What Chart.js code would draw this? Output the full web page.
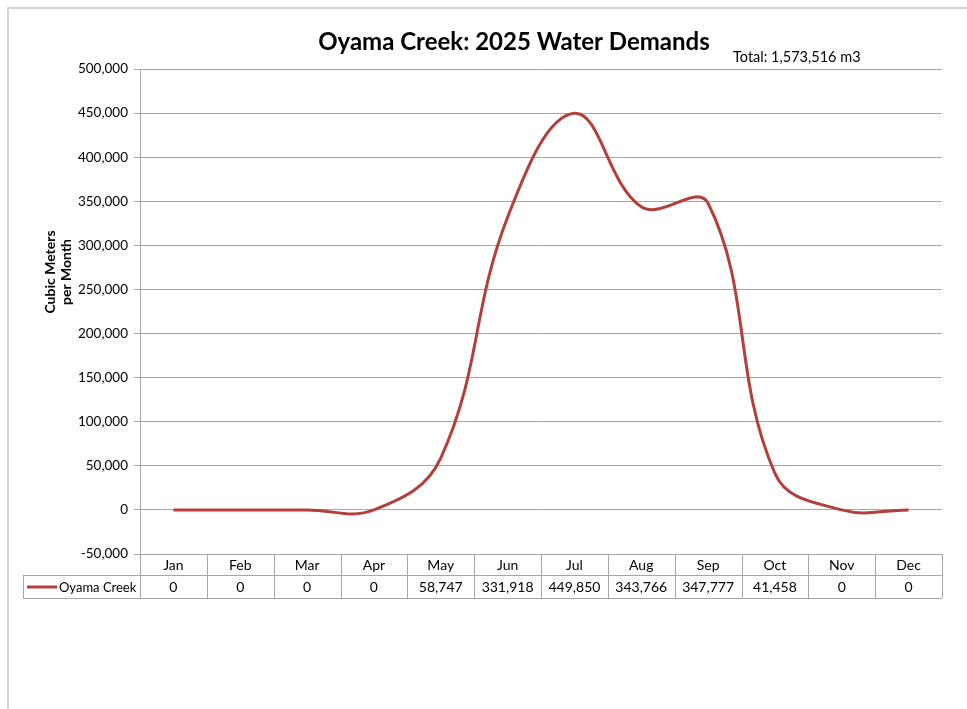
<!DOCTYPE html>
<html>
<head>
<meta charset="utf-8">
<script src="https://cdn.jsdelivr.net/npm/chart.js@4.4.1/dist/chart.umd.min.js"></script>
<style>
  html, body { margin: 0; padding: 0; background: #ffffff; }
  #wrap { position: relative; width: 967px; height: 709px; }
</style>
</head>
<body>
<div id="wrap"><canvas id="c" width="967" height="709"></canvas></div>
<script>
// ---- Data ----
const chartTitle = "Oyama Creek: 2025 Water Demands";
const totalText = "Total: 1,573,516 m3";
const yAxisTitle = ["Cubic Meters", "per Month"];
const months = ["Jan", "Feb", "Mar", "Apr", "May", "Jun", "Jul", "Aug", "Sep", "Oct", "Nov", "Dec"];
const seriesName = "Oyama Creek";
const demand = [0, 0, 0, 0, 58747, 331918, 449850, 343766, 347777, 41458, 0, 0];
const yMin = -50000, yMax = 500000, yStep = 50000;

// ---- Styles ----
const FONT = "Lato, 'Open Sans', sans-serif";
const LINE_COLOR = "#B23F3C";
const GRID_COLOR = "#A6A6A6";
const TABLE_COLOR = "#A6A6A6";
const fmt = v => v.toLocaleString("en-US");

const decor = {
  id: "decor",
  beforeDraw(chart) {
    const ctx = chart.ctx;
    ctx.save();
    ctx.fillStyle = "#ffffff";
    ctx.fillRect(0, 0, chart.width, chart.height);
    ctx.strokeStyle = "#D4D4D4";
    ctx.lineWidth = 2;
    ctx.beginPath();
    ctx.moveTo(8, chart.height + 5);
    ctx.lineTo(8, 8);
    ctx.lineTo(chart.width + 5, 8);
    ctx.stroke();
    ctx.restore();
  },
  afterDraw(chart) {
    const ctx = chart.ctx;
    const xs = chart.scales.x;
    const area = chart.chartArea;
    ctx.save();
    ctx.fillStyle = "#000000";
    ctx.font = "bold 24px " + FONT;
    ctx.textAlign = "center";
    ctx.textBaseline = "middle";
    ctx.fillText(chartTitle, 514, 42);
    ctx.font = "14.5px " + FONT;
    ctx.textAlign = "left";
    ctx.fillText(totalText, 733, 57);
    ctx.font = "bold 14px " + FONT;
    ctx.textAlign = "center";
    const xt = [50, 66];
    yAxisTitle.forEach((t, i) => {
      ctx.save();
      ctx.translate(xt[i], 272);
      ctx.rotate(-Math.PI / 2);
      ctx.fillText(t, 0, 0);
      ctx.restore();
    });
    const top = area.bottom, mid = area.bottom + 21, bot = area.bottom + 44;
    const legendLeft = 23;
    const left = area.left, right = area.right;
    const half = (xs.getPixelForValue(1) - xs.getPixelForValue(0)) / 2;
    ctx.strokeStyle = TABLE_COLOR;
    ctx.lineWidth = 1;
    ctx.beginPath();
    ctx.moveTo(legendLeft, mid + 0.5); ctx.lineTo(right, mid + 0.5);
    ctx.moveTo(legendLeft, bot + 0.5); ctx.lineTo(right, bot + 0.5);
    ctx.moveTo(legendLeft + 0.5, mid); ctx.lineTo(legendLeft + 0.5, bot);
    ctx.moveTo(left + 0.5, top); ctx.lineTo(left + 0.5, bot);
    months.forEach((m, i) => {
      const xb = Math.round(xs.getPixelForValue(i) + half) + 0.5;
      ctx.moveTo(xb, top); ctx.lineTo(xb, bot);
    });
    ctx.stroke();
    ctx.fillStyle = "#000000";
    ctx.font = "14px " + FONT;
    ctx.textAlign = "center";
    ctx.textBaseline = "middle";
    months.forEach((m, i) => {
      const x = xs.getPixelForValue(i);
      ctx.fillText(m, x, (top + mid) / 2 + 1);
      ctx.fillText(fmt(demand[i]), x, (mid + bot) / 2 + 1);
    });
    ctx.strokeStyle = LINE_COLOR;
    ctx.lineWidth = 3;
    ctx.beginPath();
    ctx.moveTo(27, (mid + bot) / 2 + 0.5);
    ctx.lineTo(57, (mid + bot) / 2 + 0.5);
    ctx.stroke();
    ctx.font = "13px " + FONT;
    ctx.textAlign = "left";
    ctx.fillText(seriesName, 59, (mid + bot) / 2 + 1);
    ctx.restore();
  }
};

new Chart(document.getElementById("c"), {
  type: "line",
  data: {
    labels: months,
    datasets: [{
      label: seriesName,
      data: demand,
      borderColor: LINE_COLOR,
      backgroundColor: LINE_COLOR,
      borderWidth: 3,
      pointRadius: 0,
      tension: 0.4,
      fill: false
    }]
  },
  options: {
    responsive: false,
    animation: false,
    devicePixelRatio: 1,
    layout: { padding: { left: 10, right: 25, top: 69, bottom: 111 } },
    plugins: { legend: { display: false }, title: { display: false }, tooltip: { enabled: false } },
    scales: {
      x: {
        type: "category",
        offset: true,
        grid: { display: false },
        border: { display: false },
        ticks: { display: false },
        afterFit(s) { s.height = 44; }
      },
      y: {
        min: yMin,
        max: yMax,
        ticks: {
          stepSize: yStep,
          padding: 6,
          color: "#000000",
          font: { family: FONT, size: 13.5 },
          callback: v => fmt(v)
        },
        grid: { color: GRID_COLOR, tickLength: 6, lineWidth: 1 },
        border: { display: true, color: GRID_COLOR },
        afterFit(s) { s.width = 130; }
      }
    }
  },
  plugins: [decor]
});
</script>
</body>
</html>
